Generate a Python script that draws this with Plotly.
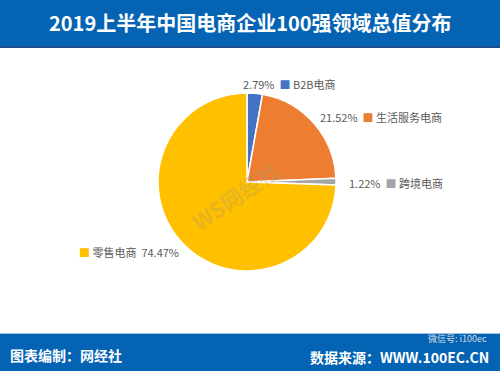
import plotly.graph_objects as go

categories = ["B2B电商", "生活服务电商", "跨境电商", "零售电商"]
shares = [2.79, 21.52, 1.22, 74.47]
colors = ["#4472C4", "#ED7D31", "#A5A5A5", "#FFC000"]
title_text = "2019上半年中国电商企业100强领域总值分布"
footer_left = "图表编制：网经社"
footer_right = "数据来源：WWW.100EC.CN"

W, H = 500, 371
cx, cy, r = 247, 182, 89

fig = go.Figure()
fig.add_trace(go.Pie(
    labels=categories, values=shares, sort=False, direction="clockwise",
    rotation=0, textinfo="none", hoverinfo="label+percent",
    marker=dict(colors=colors, line=dict(color="white", width=1.5)),
    domain=dict(x=[(cx - r) / W, (cx + r) / W], y=[(H - cy - r) / H, (H - cy + r) / H]),
    showlegend=False,
))

FONT = "Noto Sans CJK SC"
gray = "#595959"

def lab(i, pct_first=True):
    sq = f"<span style='color:{colors[i]}'>■</span>"
    if pct_first:
        return f"{shares[i]:.2f}%  {sq} {categories[i]}"
    return f"{sq} {categories[i]}  {shares[i]:.2f}%"

label_pos = [(241, 84, "left", True), (318, 117, "left", True),
             (347, 183, "left", True), (181, 252, "right", False)]
annotations = []
for i, (x, y, anc, pf) in enumerate(label_pos):
    annotations.append(dict(
        x=x / W, y=1 - y / H, xref="paper", yref="paper", xanchor=anc, yanchor="middle",
        text=lab(i, pf), showarrow=False, font=dict(family=FONT, size=11, color=gray)))

annotations.append(dict(x=0.5, y=1 - 22 / H, xref="paper", yref="paper", xanchor="center",
                        yanchor="middle", text=f"<b>{title_text}</b>", showarrow=False,
                        font=dict(family=FONT, size=20, color="white")))
annotations.append(dict(x=8 / W, y=1 - 355 / H, xref="paper", yref="paper", xanchor="left",
                        yanchor="middle", text=f"<b>{footer_left}</b>", showarrow=False,
                        font=dict(family=FONT, size=14, color="white")))
annotations.append(dict(x=490 / W, y=1 - 357 / H, xref="paper", yref="paper", xanchor="right",
                        yanchor="middle", text=f"<b>{footer_right}</b>", showarrow=False,
                        borderpad=0, font=dict(family=FONT, size=14, color="white")))
annotations.append(dict(x=488 / W, y=1 - 338 / H, xref="paper", yref="paper", xanchor="right",
                        yanchor="middle", text="微信号: i100ec", showarrow=False, borderpad=0,
                        font=dict(family=FONT, size=9, color="rgba(235,235,235,0.9)")))
annotations.append(dict(x=235 / W, y=1 - 195 / H, xref="paper", yref="paper", xanchor="center",
                        yanchor="middle", text="<b>WS网经社</b>", showarrow=False, textangle=-35,
                        font=dict(family=FONT, size=22, color="rgba(170,150,110,0.30)")))

shapes = [
    dict(type="rect", xref="paper", yref="paper", x0=0, x1=1, y0=1 - 46 / H, y1=1,
         fillcolor="#0563B4", line=dict(width=0), layer="below"),
    dict(type="rect", xref="paper", yref="paper", x0=0, x1=1, y0=1 - 48 / H, y1=1 - 46 / H,
         fillcolor="#1B4F8C", line=dict(width=0), layer="below"),
    dict(type="rect", xref="paper", yref="paper", x0=0, x1=1, y0=0, y1=1 - 333 / H,
         fillcolor="#0563B4", line=dict(width=0), layer="below"),
    dict(type="rect", xref="paper", yref="paper", x0=0, x1=1, y0=1 - 334 / H, y1=1 - 333 / H,
         fillcolor="#9CC3E6", line=dict(width=0), layer="below"),
]

fig.update_layout(
    width=W, height=H, margin=dict(l=0, r=0, t=0, b=0),
    paper_bgcolor="white", plot_bgcolor="white",
    annotations=annotations, shapes=shapes,
)
fig.write_html("out.html", config={"displayModeBar": False},
               post_script="document.body.style.margin='0px';document.body.style.overflow='hidden';")
